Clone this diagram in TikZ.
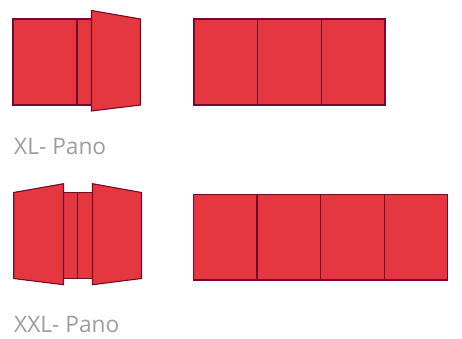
\documentclass[tikz,border=0pt]{standalone}
\usepackage{fontspec}
\setmainfont{Open Sans}
\definecolor{panelred}{HTML}{E4373F}
\definecolor{paneledge}{HTML}{760A2C}
\definecolor{labelgray}{HTML}{9A9DA1}
\tikzset{
  panel/.style={fill=panelred,draw=paneledge,line width=1.1pt,line join=miter},
  pano/.style={anchor=base west,inner sep=0pt,text=labelgray,font=\fontsize{22.7pt}{25pt}\selectfont}
}
\begin{document}
\begin{tikzpicture}[x=1pt,y=-1pt]
\useasboundingbox (0,0) rectangle (462,338);
% XL folded
\draw[panel] (13,19) rectangle (77,105);
\draw[panel] (77,19) rectangle (91.5,105);
\draw[panel] (91.5,10.5) -- (140.5,19) -- (140.5,105) -- (91.5,111) -- cycle;
% XL open
\draw[panel] (194,19) rectangle (257.7,105);
\draw[panel] (257.7,19) rectangle (321.5,105);
\draw[panel] (321.5,19) rectangle (385,105);
\node[pano] (xl) at (14,154) {XL- Pano};
% XXL folded
\draw[panel] (63.5,192.5) rectangle (77.5,278.5);
\draw[panel] (77.5,192.5) rectangle (92.5,278.5);
\draw[panel] (13.7,192.5) -- (63.5,183.7) -- (63.5,284.7) -- (13.7,278.5) -- cycle;
\draw[panel] (92.5,183.7) -- (141.5,192.5) -- (141.5,278.5) -- (92.5,284.7) -- cycle;
% XXL open
\draw[panel] (193.3,194.5) rectangle (257,280);
\draw[panel] (257,194.5) rectangle (320.7,280);
\draw[panel] (320.7,194.5) rectangle (384.2,280);
\draw[panel] (384.2,194.5) rectangle (447.8,280);
\node[pano] (xxl) at (14,332) {XXL- Pano};
\end{tikzpicture}
\end{document}
